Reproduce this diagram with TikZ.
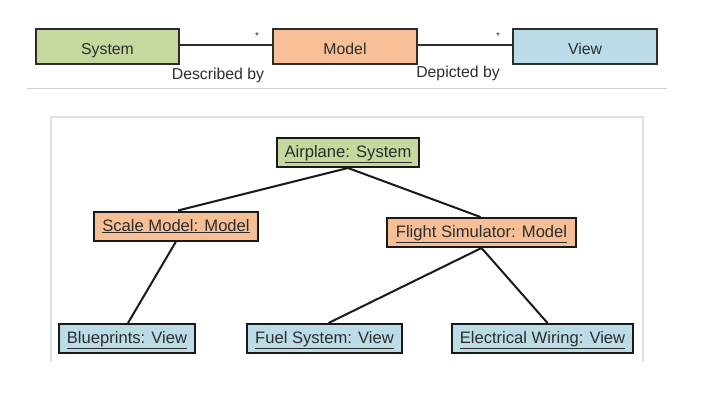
\documentclass[tikz,border=0pt]{standalone}
\usepackage{fontspec}
\setmainfont{Liberation Sans}
\definecolor{sysgreen}{RGB}{197,216,158}
\definecolor{modorange}{RGB}{246,191,150}
\definecolor{viewblue}{RGB}{187,220,231}
\definecolor{txtdark}{RGB}{45,45,45}
\definecolor{panelgray}{RGB}{225,225,225}
\definecolor{sepgray}{RGB}{210,210,210}
\tikzset{
  classbox/.style={draw=txtdark, line width=1.4pt, minimum height=35pt, inner sep=0pt,
    font=\fontsize{15.8}{18}\selectfont, text=txtdark, text height=15pt, text depth=0pt},
  objbox/.style={draw=black!90, line width=2pt, minimum height=29pt, inner sep=0pt,
    font=\fontsize{16.6}{19}\selectfont, text=txtdark, text height=10pt, text depth=0pt},
  assoc/.style={draw=txtdark, line width=1.3pt},
  link/.style={draw=black!90, line width=2pt},
  lbl/.style={font=\fontsize{15.8}{18}\selectfont, text=txtdark, inner sep=0pt},
  mult/.style={font=\fontsize{10}{12}\selectfont, text=txtdark, inner sep=0pt}
}
\begin{document}
\begin{tikzpicture}[x=1pt,y=-1pt]
\useasboundingbox (0,0) rectangle (708,402);
% top class diagram
\node[classbox, fill=sysgreen, minimum width=143pt] (sys) at (107.5,46.5) {System};
\node[classbox, fill=modorange, minimum width=144pt] (mod) at (345,46.5) {Model};
\node[classbox, fill=viewblue, minimum width=144pt] (view) at (585,46.5) {View};
\draw[assoc] ([yshift=1.5pt]sys.east) -- ([yshift=1.5pt]mod.west);
\draw[assoc] ([yshift=1.5pt]mod.east) -- ([yshift=1.5pt]view.west);
\node[mult] (m1) at (257,36) {*};
\node[mult] (m2) at (498,36) {*};
\node[lbl] (l1) at (218,75) {Described by};
\node[lbl] (l2) at (458,73) {Depicted by};
% separator
\coordinate (sepL) at (27,88);
\coordinate (sepR) at (667,88);
\draw[sepgray, line width=1pt] (sepL) -- (sepR);
% panel
\coordinate (pBL) at (51,362);
\coordinate (pTL) at (51,117);
\coordinate (pTR) at (643,117);
\coordinate (pBR) at (643,362);
\draw[panelgray, line width=1.2pt] (pBL) -- (pTL) -- (pTR) -- (pBR);
% object diagram
\node[objbox, fill=sysgreen, minimum width=142pt] (air) at (348,152.5) {\underline{Airplane: System}};
\node[objbox, fill=modorange, minimum width=164pt] (scale) at (176,226) {\underline{Scale Model: Model}};
\node[objbox, fill=modorange, minimum width=189pt] (flight) at (481.5,232.5) {\underline{Flight Simulator: Model}};
\node[objbox, fill=viewblue, minimum width=136pt] (blue) at (127,338.5) {\underline{Blueprints: View}};
\node[objbox, fill=viewblue, minimum width=155pt] (fuel) at (324.5,338.5) {\underline{Fuel System: View}};
\node[objbox, fill=viewblue, minimum width=181pt] (elec) at (542.5,338.5) {\underline{Electrical Wiring: View}};
\draw[link] (air.south) -- ([xshift=2pt]scale.north);
\draw[link] (air.south) -- ([xshift=-1pt]flight.north);
\draw[link] (scale.south) -- ([xshift=1pt]blue.north);
\draw[link] (flight.south) -- ([xshift=4pt]fuel.north);
\draw[link] (flight.south) -- ([xshift=5pt]elec.north);
\end{tikzpicture}
\end{document}
